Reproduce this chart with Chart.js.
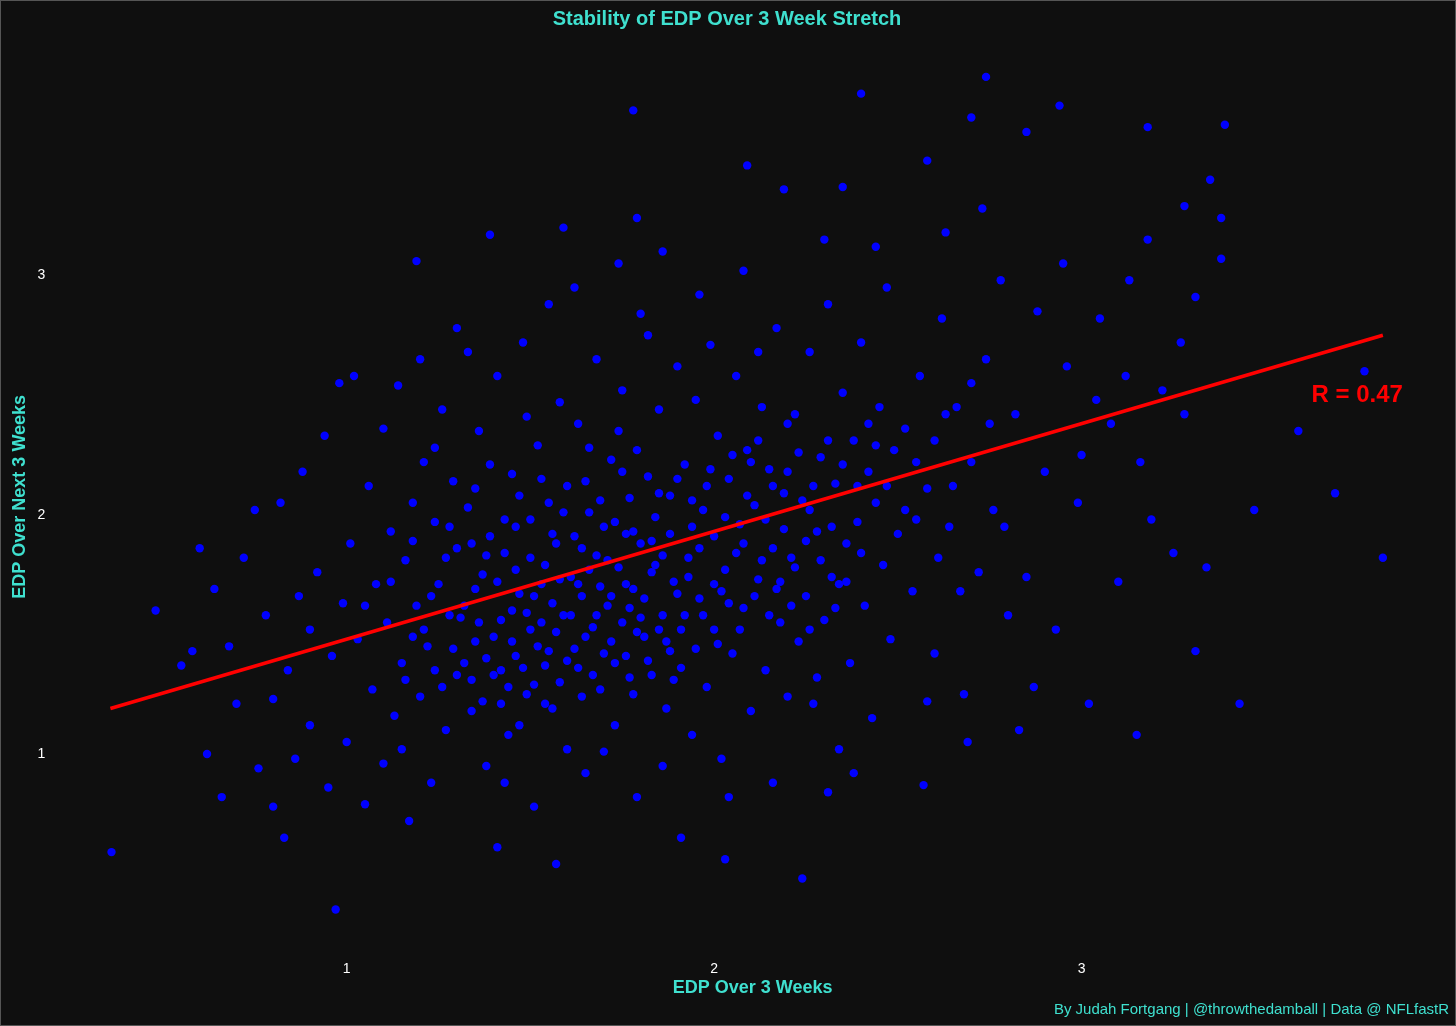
<!DOCTYPE html>
<html>
<head>
<meta charset="utf-8">
<script src="https://cdn.jsdelivr.net/npm/chart.js@4"></script>
<style>
  html, body { margin: 0; padding: 0; background: #0f0f0f; }
  #wrap { width: 1454px; height: 1024px; border: 1px solid #555; }
</style>
</head>
<body>
<div id="wrap"><canvas id="edpChart"></canvas></div>
<script>
// EDP over 3 weeks (x) vs EDP over the next 3 weeks (y)
const edpPairs = [
  [0.36,0.59],[0.97,0.35],[1.78,3.69],[2.40,3.76],[2.74,3.83],[2.94,3.71],[2.70,3.66],[3.39,3.63],
  [3.18,3.62],[2.85,3.60],[2.24,0.48],[2.03,0.56],[3.82,1.82],[3.43,1.21],[3.69,2.09],[3.77,2.60],
  [3.59,2.35],[3.47,2.02],[3.38,3.24],[3.35,3.40],[3.28,3.29],[3.38,3.07],[3.31,1.43],[3.15,1.08],
  [0.48,1.60],[0.62,1.00],[0.66,0.82],[0.83,0.65],[1.19,3.06],[1.39,3.17],[1.59,3.20],[1.79,3.24],
  [2.09,3.46],[2.19,3.36],[2.58,3.48],[2.35,3.37],[1.41,0.61],[1.57,0.54],[1.91,0.65],[2.31,0.84],
  [0.55,1.37],[0.60,1.86],[0.64,1.69],[0.68,1.45],[0.72,1.82],[0.75,2.02],[0.76,0.94],[0.78,1.58],
  [0.80,1.23],[0.82,2.05],[0.84,1.35],[0.86,0.98],[0.88,2.18],[0.90,1.52],[0.90,1.12],[0.92,1.76],
  [0.94,2.33],[0.95,0.86],[0.96,1.41],[0.98,2.55],[0.99,1.63],[0.58,1.43],[0.70,1.21],[0.80,0.78],
  [0.87,1.66],
  [1.00,1.05],[1.01,1.88],[1.02,2.58],[1.03,1.48],[1.05,0.79],[1.06,2.12],[1.07,1.27],[1.08,1.71],
  [1.10,2.36],[1.10,0.96],[1.11,1.55],[1.12,1.93],[1.13,1.16],[1.14,2.54],[1.15,1.38],[1.16,1.81],
  [1.17,0.72],[1.18,2.05],[1.19,1.62],[1.20,1.24],[1.21,2.22],[1.22,1.45],[1.23,0.88],[1.24,1.97],
  [1.25,1.71],[1.26,2.44],[1.27,1.10],[1.28,1.58],[1.29,2.14],[1.30,1.33],[1.30,1.86],[1.30,2.78],
  [1.12,1.72],[1.18,1.49],[1.24,1.35],[1.27,1.82],[1.05,1.62],[1.20,2.65],[1.15,1.02],
  [1.32,1.62],[1.33,2.03],[1.34,1.18],[1.35,1.47],[1.36,2.35],[1.37,1.75],[1.38,0.95],[1.39,1.91],
  [1.40,1.33],[1.41,2.58],[1.42,1.56],[1.43,1.84],[1.44,1.08],[1.45,2.17],[1.46,1.41],[1.47,1.67],
  [1.48,2.72],[1.49,1.25],[1.50,1.98],[1.50,1.52],[1.51,0.78],[1.52,2.29],[1.53,1.71],[1.54,1.37],
  [1.55,2.05],[1.56,1.19],[1.57,1.88],[1.58,2.47],[1.59,1.58],[1.60,1.02],[1.60,2.12],[1.36,1.55],
  [1.41,1.72],[1.46,1.95],[1.52,1.45],[1.56,1.63],[1.34,1.88],[1.44,1.28],[1.49,2.41],[1.54,1.79],
  [1.39,2.21],[1.47,1.12],[1.58,1.30],[1.33,2.68],[1.43,0.88],[1.55,2.88],[1.45,1.60],[1.51,1.66],
  [1.38,1.40],
  [1.61,1.74],[1.62,1.44],[1.63,2.38],[1.64,1.86],[1.65,0.92],[1.66,2.01],[1.67,1.53],[1.68,2.65],
  [1.69,1.27],[1.70,1.95],[1.71,1.62],[1.72,2.23],[1.73,1.12],[1.74,1.78],[1.75,2.52],[1.76,1.41],
  [1.77,2.07],[1.78,1.69],[1.79,0.82],[1.80,1.88],[1.80,2.84],[1.81,1.49],[1.82,2.16],[1.83,1.33],
  [1.84,1.99],[1.85,2.44],[1.86,1.58],[1.87,1.19],[1.88,2.08],[1.89,1.72],[1.90,2.62],[1.64,1.66],
  [1.68,1.83],[1.72,1.47],[1.76,1.92],[1.80,1.57],[1.84,1.79],[1.88,1.43],[1.66,2.28],[1.74,2.35],
  [1.82,2.75],[1.70,1.01],[1.78,1.25],[1.86,0.95],[1.62,2.95],[1.74,3.05],[1.86,3.10],[1.69,1.70],
  [1.77,1.61],[1.83,1.89],
  [1.91,1.36],[1.92,2.21],[1.93,1.82],[1.94,1.08],[1.95,2.48],[1.96,1.65],[1.97,2.02],[1.98,1.28],
  [1.99,2.71],[2.00,1.91],[2.00,1.52],[2.01,2.33],[2.02,0.98],[2.03,1.77],[2.04,2.15],[2.05,1.42],
  [2.06,2.58],[2.07,1.96],[2.08,1.61],[2.09,2.27],[2.10,1.18],[2.11,2.04],[2.12,1.73],[2.13,2.45],
  [2.14,1.35],[2.15,2.19],[2.16,1.86],[2.17,2.78],[2.18,1.55],[2.19,2.09],[2.20,1.24],[1.94,1.95],
  [1.98,2.12],[2.02,1.68],[2.06,1.84],[2.10,2.22],[2.14,1.98],[2.18,1.72],[1.96,2.92],[2.08,3.02],
  [2.16,0.88],[2.04,0.82],[2.12,2.68],[1.92,1.58],[2.20,2.38],
  [2.21,1.82],[2.22,2.42],[2.23,1.47],[2.24,2.06],[2.25,1.66],[2.26,2.68],[2.27,1.21],[2.28,1.93],
  [2.29,2.24],[2.30,1.56],[2.31,2.88],[2.32,1.74],[2.33,2.13],[2.34,1.02],[2.35,2.51],[2.36,1.88],
  [2.37,1.38],[2.38,2.31],[2.39,1.97],[2.40,2.72],[2.41,1.62],[2.42,2.18],[2.43,1.15],[2.44,2.05],
  [2.45,2.45],[2.46,1.79],[2.47,2.95],[2.48,1.48],[2.49,2.27],[2.50,1.92],[2.26,2.02],[2.34,1.71],
  [2.42,2.38],[2.30,3.15],[2.44,3.12],[2.38,0.92],[2.28,1.32],
  [2.52,2.36],[2.54,1.68],[2.56,2.58],[2.58,2.11],[2.60,1.42],[2.62,2.82],[2.64,1.95],[2.66,2.45],
  [2.68,1.25],[2.70,2.22],[2.72,1.76],[2.74,2.65],[2.76,2.02],[2.78,2.98],[2.80,1.58],[2.55,1.98],
  [2.60,2.31],[2.65,2.12],[2.70,2.55],[2.75,2.38],[2.57,0.87],[2.63,3.18],[2.69,1.05],[2.73,3.28],
  [2.79,1.95],[2.58,1.22],[2.67,1.68],
  [2.82,2.42],[2.85,1.74],[2.88,2.85],[2.90,2.18],[2.93,1.52],[2.96,2.62],[2.99,2.05],[3.02,1.21],
  [3.05,2.82],[3.08,2.38],[3.10,1.72],[3.13,2.98],[3.16,2.22],[3.19,1.98],[3.22,2.52],[3.25,1.84],
  [3.28,2.42],[3.31,2.91],[3.34,1.78],[2.87,1.28],[2.95,3.05],[3.04,2.48],[3.12,2.58],[3.18,3.15],
  [3.27,2.72],[2.83,1.10],[3.00,2.25],
  // dense core
  [1.21,1.52],[1.23,1.66],[1.26,1.28],[1.29,1.44],[1.31,1.57],[1.32,1.38],[1.35,1.69],[1.37,1.22],
  [1.38,1.83],[1.40,1.49],[1.42,1.35],[1.43,1.98],[1.45,1.47],[1.46,1.77],[1.48,1.36],[1.49,1.59],
  [1.50,1.82],[1.51,1.29],[1.53,1.55],[1.53,2.15],[1.55,1.43],[1.56,1.92],[1.57,1.51],[1.58,1.73],
  [1.59,2.01],[1.60,1.39],[1.61,1.58],[1.62,1.91],[1.63,1.36],[1.63,1.71],[1.65,1.49],[1.65,2.14],
  [1.66,1.77],[1.67,1.33],[1.68,1.58],[1.69,2.06],[1.70,1.42],[1.71,1.81],[1.72,1.66],[1.73,1.97],
  [1.73,1.38],[1.75,1.55],[1.75,2.18],[1.76,1.71],[1.77,1.32],[1.78,1.93],[1.79,1.51],[1.79,2.27],
  [1.81,1.65],[1.82,1.39],[1.83,1.76],[1.85,1.52],[1.85,2.09],[1.86,1.83],[1.87,1.47],[1.88,1.92],
  [1.89,1.31],[1.90,1.67],[1.90,2.15],[1.91,1.52],[1.93,1.74],[1.94,2.06],[1.95,1.44],[1.96,1.86],
  [1.97,1.58],[1.99,2.19],[2.00,1.71],[2.01,1.46],[2.03,1.99],[2.04,1.63],[2.05,2.25],[2.07,1.52],
  [2.08,1.88],[2.09,2.08],[2.11,1.66],[2.12,2.31],[2.13,1.81],[2.15,1.58],[2.16,2.12],[2.17,1.69],
  [2.19,1.94],[2.20,2.18],[2.21,1.62],[2.22,1.78],[2.23,2.26],[2.25,1.89],[2.26,1.52],[2.27,2.12],
  [2.29,1.81],[2.31,2.31],[2.32,1.95],[2.33,1.61],[2.35,2.21],[2.36,1.72],[2.39,2.12],[2.40,1.84],
  [2.44,2.29],[2.47,2.12],[2.52,2.02],[2.55,2.22],[2.61,1.82],[2.63,2.42],[1.47,2.08],[1.35,2.11],
  [1.28,1.95],[1.24,2.28],[1.18,1.89],[1.16,1.31],[1.34,1.31],[1.42,1.21],[1.54,1.21],[1.64,1.24]
];

// fitted line ends
const fitX = [0.357, 3.82];
const fitY = [1.19, 2.75];
const xTicks = [1, 2, 3];
const yTicks = [1, 2, 3];
const rLabel = "R = 0.47";

const teal = "#3fe0cf";

const rPlugin = {
  id: "rLabel",
  afterDatasetsDraw(chart) {
    const { ctx, scales } = chart;
    ctx.save();
    ctx.fillStyle = "#ff0000";
    ctx.font = "bold 24px 'Liberation Sans', Arial, sans-serif";
    ctx.textAlign = "center";
    ctx.textBaseline = "middle";
    ctx.fillText(rLabel, scales.x.getPixelForValue(3.75), scales.y.getPixelForValue(2.5));
    ctx.restore();
  }
};

new Chart(document.getElementById("edpChart"), {
  data: {
    datasets: [
      {
        type: "line",
        data: fitX.map((x, i) => ({ x: x, y: fitY[i] })),
        borderColor: "#ff0000",
        borderWidth: 3.5,
        pointRadius: 0,
        order: 0
      },
      {
        type: "scatter",
        data: edpPairs.map((p) => ({ x: p[0], y: p[1] })),
        backgroundColor: "#0000ff",
        borderWidth: 0,
        pointRadius: 4.2,
        order: 1
      }
    ]
  },
  options: {
    responsive: true,
    maintainAspectRatio: false,
    animation: false,
    layout: { padding: { left: 4, right: 6, top: 2, bottom: 6 } },
    plugins: {
      legend: { display: false },
      tooltip: { enabled: false },
      title: {
        display: true,
        text: "Stability of EDP Over 3 Week Stretch",
        color: teal,
        font: { family: "'Liberation Sans', Arial", size: 20, weight: "bold" },
        padding: { top: 4, bottom: 10 }
      },
      subtitle: {
        display: true,
        position: "bottom",
        align: "end",
        text: "By Judah Fortgang | @throwthedamball | Data @ NFLfastR",
        color: teal,
        font: { family: "'Liberation Sans', Arial", size: 15 },
        padding: { top: 2, bottom: 0 }
      },
      rLabel: {}
    },
    scales: {
      x: {
        type: "linear",
        min: 0.21,
        max: 4.0,
        afterBuildTicks: (axis) => { axis.ticks = xTicks.map((v) => ({ value: v })); },
        grid: { display: false },
        border: { display: false },
        ticks: { color: "#ffffff", padding: 0, font: { family: "'Liberation Sans', Arial", size: 14 } },
        title: {
          display: true,
          text: "EDP Over 3 Weeks",
          color: teal,
          font: { family: "'Liberation Sans', Arial", size: 18, weight: "bold" },
          padding: { top: 0, bottom: 0 }
        }
      },
      y: {
        type: "linear",
        min: 0.17,
        max: 3.98,
        afterBuildTicks: (axis) => { axis.ticks = yTicks.map((v) => ({ value: v })); },
        grid: { display: false },
        border: { display: false },
        ticks: { color: "#ffffff", font: { family: "'Liberation Sans', Arial", size: 14 } },
        title: {
          display: true,
          text: "EDP Over Next 3 Weeks",
          color: teal,
          font: { family: "'Liberation Sans', Arial", size: 18, weight: "bold" }
        }
      }
    }
  },
  plugins: [rPlugin]
});
</script>
</body>
</html>
